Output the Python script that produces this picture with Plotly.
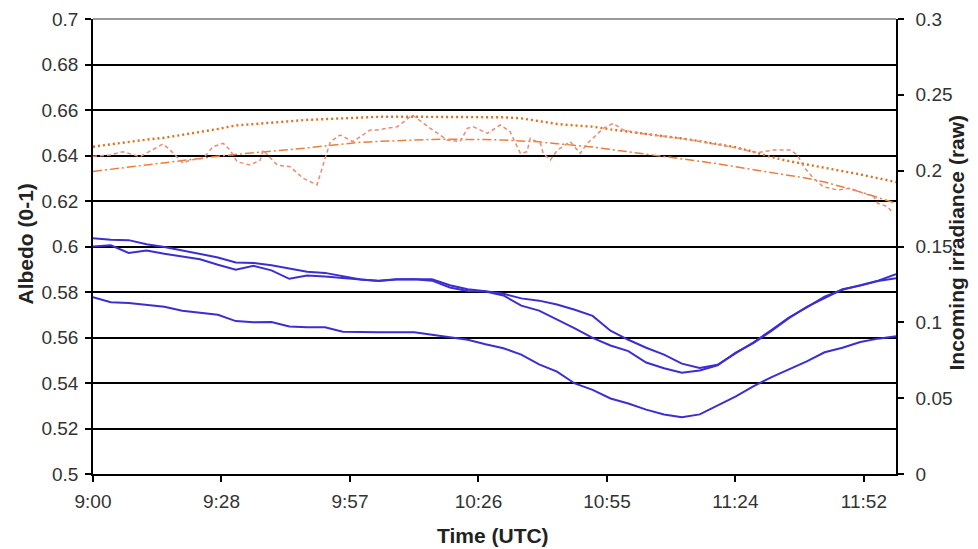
import pandas as pd
import plotly.graph_objects as go

DAY = "2000-01-01 "

# regular 4-minute sampling grid 09:00 .. 12:00
grid_times = [t.strftime("%H:%M") for t in pd.date_range(DAY + "09:00", DAY + "12:00", freq="4min")]

# Albedo series (left axis)
albedo_a = [0.6036, 0.6030, 0.6028, 0.6010, 0.5998, 0.5982, 0.5966, 0.5952, 0.5930, 0.5928,
            0.5918, 0.5904, 0.5889, 0.5884, 0.5870, 0.5855, 0.5850, 0.5856, 0.5856, 0.5856,
            0.5830, 0.5812, 0.5803, 0.5792, 0.5772, 0.5762, 0.5745, 0.5722, 0.5695, 0.5630,
            0.5590, 0.5555, 0.5525, 0.5485, 0.5466, 0.5480, 0.5530, 0.5578, 0.5632, 0.5688,
            0.5732, 0.5780, 0.5810, 0.5830, 0.5850, 0.5878]
albedo_b = [0.6000, 0.6005, 0.5972, 0.5982, 0.5968, 0.5955, 0.5944, 0.5920, 0.5898, 0.5915,
            0.5895, 0.5858, 0.5872, 0.5868, 0.5862, 0.5853, 0.5848, 0.5855, 0.5856, 0.5850,
            0.5820, 0.5804, 0.5802, 0.5785, 0.5740, 0.5718, 0.5680, 0.5640, 0.5598, 0.5565,
            0.5540, 0.5490, 0.5465, 0.5445, 0.5455, 0.5478, 0.5532, 0.5575, 0.5628, 0.5685,
            0.5735, 0.5775, 0.5812, 0.5828, 0.5848, 0.5860]
albedo_c = [0.5777, 0.5755, 0.5752, 0.5743, 0.5735, 0.5718, 0.5708, 0.5700, 0.5672, 0.5667,
            0.5668, 0.5648, 0.5645, 0.5645, 0.5625, 0.5623, 0.5623, 0.5623, 0.5623, 0.5612,
            0.5600, 0.5590, 0.5570, 0.5553, 0.5525, 0.5482, 0.5450, 0.5398, 0.5370, 0.5332,
            0.5310, 0.5283, 0.5262, 0.5250, 0.5262, 0.5300, 0.5340, 0.5385, 0.5425, 0.5460,
            0.5495, 0.5535, 0.5555, 0.5580, 0.5595, 0.5605]

# Irradiance series (right axis)
irr_dotted = [0.2158, 0.2175, 0.2190, 0.2205, 0.2217, 0.2236, 0.2253, 0.2275, 0.2298, 0.2308,
              0.2318, 0.2327, 0.2335, 0.2340, 0.2345, 0.2353, 0.2355, 0.2356, 0.2356, 0.2356,
              0.2355, 0.2354, 0.2353, 0.2352, 0.2345, 0.2325, 0.2308, 0.2298, 0.2290, 0.2272,
              0.2258, 0.2242, 0.2226, 0.2212, 0.2195, 0.2176, 0.2155, 0.2125, 0.2090, 0.2063,
              0.2042, 0.2020, 0.1998, 0.1975, 0.1950, 0.1925]
irr_dashdot = [0.1995, 0.2010, 0.2025, 0.2040, 0.2053, 0.2066, 0.2080, 0.2095, 0.2107, 0.2117,
               0.2127, 0.2140, 0.2150, 0.2163, 0.2175, 0.2187, 0.2193, 0.2198, 0.2203, 0.2206,
               0.2207, 0.2207, 0.2205, 0.2202, 0.2198, 0.2190, 0.2178, 0.2168, 0.2156, 0.2140,
               0.2125, 0.2112, 0.2096, 0.2078, 0.2062, 0.2045, 0.2027, 0.2008, 0.1990, 0.1970,
               0.1950, 0.1925, 0.1895, 0.1860, 0.1822, 0.1785]

irr_noisy_times = ["09:00:00", "09:03:48", "09:06:42", "09:10:30", "09:15:42", "09:17:18", "09:20:12",
                   "09:21:48", "09:24:42", "09:26:54", "09:29:12", "09:30:42", "09:32:18", "09:35:12",
                   "09:37:30", "09:38:06", "09:41:18", "09:44:12", "09:47:06", "09:50:12", "09:53:12",
                   "09:55:24", "09:58:18", "10:02:06", "10:03:42", "10:08:12", "10:11:36", "10:15:36",
                   "10:19:24", "10:22:18", "10:23:54", "10:25:12", "10:28:24", "10:31:18", "10:33:30",
                   "10:35:06", "10:35:48", "10:37:18", "10:38:00", "10:40:18", "10:40:54", "10:42:30",
                   "10:44:06", "10:47:00", "10:49:12", "10:50:48", "10:54:24", "10:56:36", "10:58:54",
                   "11:02:42", "11:11:42", "11:22:54", "11:28:54", "11:32:30", "11:36:18", "11:37:54",
                   "11:39:18", "11:41:30", "11:42:24", "11:43:42", "11:46:54", "11:49:48", "11:52:42",
                   "11:55:00", "11:55:54", "11:58:06", "11:59:24"]
irr_noisy = [0.2095, 0.2103, 0.2125, 0.2092, 0.2176, 0.2136, 0.2049,
             0.2070, 0.2081, 0.2158, 0.2180, 0.2136, 0.2059, 0.2037,
             0.2070, 0.2136, 0.2037, 0.2026, 0.1950, 0.1906, 0.2191,
             0.2235, 0.2191, 0.2268, 0.2268, 0.2290, 0.2367, 0.2279,
             0.2202, 0.2191, 0.2279, 0.2290, 0.2246, 0.2301, 0.2257,
             0.2158, 0.2114, 0.2125, 0.2213, 0.2180, 0.2114, 0.2070,
             0.2136, 0.2191, 0.2114, 0.2180, 0.2279, 0.2312, 0.2268,
             0.2246, 0.2213, 0.2158, 0.2118, 0.2136, 0.2136, 0.2103,
             0.2026, 0.1950, 0.1927, 0.1894, 0.1873, 0.1884, 0.1851,
             0.1829, 0.1785, 0.1763, 0.1719]

x_title = "Time (UTC)"
y_title = "Albedo (0-1)"
y2_title = "Incoming irradiance (raw)"

def ts(lst):
    return [DAY + t for t in lst]

BLUE = "#3c2ed2"
FONT = "Liberation Sans, Arial, sans-serif"

fig = go.Figure()
for vals in (albedo_a, albedo_b, albedo_c):
    fig.add_trace(go.Scatter(x=ts(grid_times), y=vals, mode="lines",
                             line=dict(color=BLUE, width=2), yaxis="y"))

fig.add_trace(go.Scatter(x=ts(grid_times), y=irr_dotted, mode="lines", yaxis="y2",
                         line=dict(color="#e2701c", width=2.4, dash="2px,3px")))
fig.add_trace(go.Scatter(x=ts(grid_times), y=irr_dashdot, mode="lines", yaxis="y2",
                         line=dict(color="#ef7d3a", width=1.5, dash="9px,3px,2px,3px")))
fig.add_trace(go.Scatter(x=ts(irr_noisy_times), y=irr_noisy, mode="lines", yaxis="y2",
                         line=dict(color="#ee8a70", width=1.5, dash="4px,3px")))

tickfont = dict(family=FONT, size=19, color="#333333")
titlefont = dict(family=FONT, size=21, color="#222222", weight="bold")

axis_common = dict(zeroline=False, showline=True, linecolor="black", linewidth=1.5,
                   ticks="outside", ticklen=6, tickcolor="black", tickwidth=1.5,
                   tickfont=tickfont, automargin=False)

fig.update_layout(
    width=970, height=541,
    margin=dict(l=85, r=82, t=11, b=75),
    paper_bgcolor="white", plot_bgcolor="white",
    showlegend=False,
    xaxis=dict(
        type="date",
        range=[DAY + "09:00", DAY + "12:00"],
        tick0=DAY + "09:00", dtick=1728000,
        tickformat="%-H:%M",
        showgrid=False,
        ticklabelstandoff=3,
        **axis_common,
    ),
    yaxis=dict(
        range=[0.5, 0.7], dtick=0.02, tickformat="~g",
        showgrid=True, gridcolor="black", gridwidth=1.5,
        ticklabelstandoff=3,
        **axis_common,
    ),
    yaxis2=dict(
        range=[0, 0.3], dtick=0.05, tickformat="~g",
        overlaying="y", side="right",
        showgrid=False,
        ticklabelstandoff=8,
        **axis_common,
    ),
    shapes=[dict(type="line", xref="paper", yref="paper", x0=0, x1=1, y0=1, y1=1,
                 line=dict(color="#999999", width=2), layer="above")],
    annotations=[
        dict(text=y_title, xref="paper", yref="paper", x=0, y=0.5, xshift=-68, yshift=2,
             textangle=-90, showarrow=False, font=titlefont, xanchor="center", yanchor="middle"),
        dict(text=y2_title, xref="paper", yref="paper", x=1, y=0.5, xshift=60, yshift=4,
             textangle=-90, showarrow=False, font=titlefont, xanchor="center", yanchor="middle"),
        dict(text=x_title, xref="paper", yref="paper", x=0.5, y=0, yshift=-61, xshift=-2,
             showarrow=False, font=titlefont, xanchor="center", yanchor="middle"),
    ],
)

fig.write_html("out.html")
